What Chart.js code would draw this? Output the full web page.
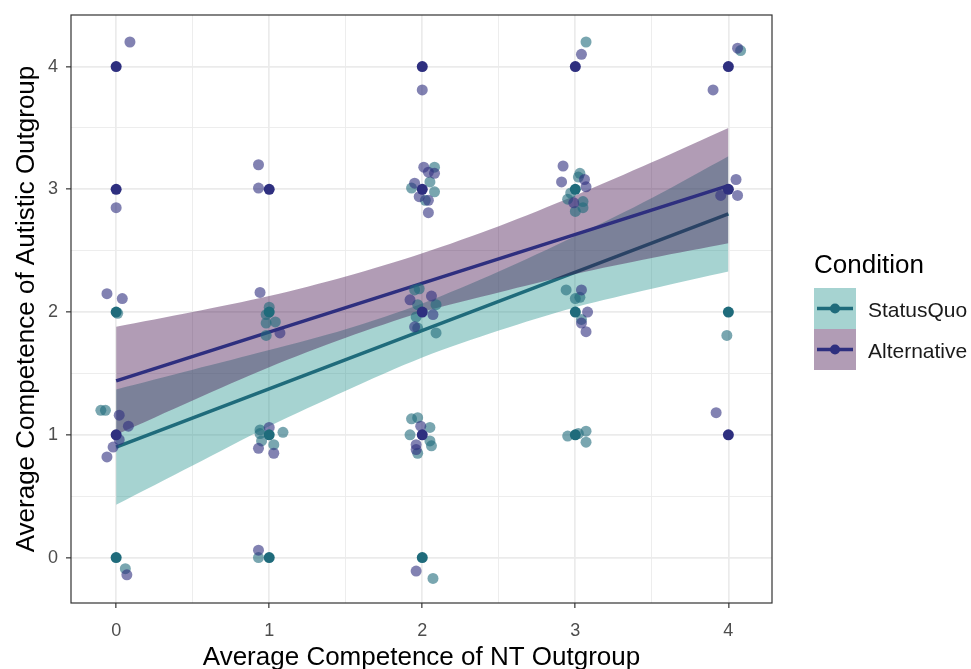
<!DOCTYPE html>
<html>
<head>
<meta charset="utf-8">
<script src="https://cdn.jsdelivr.net/npm/chart.js@4.4.1/dist/chart.umd.min.js"></script>
<style>
  html, body { margin: 0; padding: 0; background: #ffffff; }
  canvas { display: block; }
</style>
</head>
<body>
<canvas id="chart" width="971" height="669"></canvas>
<script>
// ---- data -------------------------------------------------------------
const conditions = ['StatusQuo', 'Alternative'];

const xTickValues = [0, 1, 2, 3, 4];
const xTickLabels = ['0', '1', '2', '3', '4'];
const yTickValues = [0, 1, 2, 3, 4];
const yTickLabels = ['0', '1', '2', '3', '4'];

const xTitle = 'Average Competence of NT Outgroup';
const yTitle = 'Average Competence of Autistic Outgroup';
const legendTitle = 'Condition';

// linear fit per condition, evaluated at the ends of the x range
const fitX = [0, 4];
const fitStatusQuo = [0.90, 2.80];
const fitAlternative = [1.44, 3.03];

// 95% confidence band of each fit
const bandX = [0, 0.5, 1, 1.5, 2, 2.5, 3, 3.5, 4];
const statusQuoLower = [0.43, 0.75, 1.07, 1.36, 1.63, 1.85, 2.04, 2.19, 2.33];
const statusQuoUpper = [1.37, 1.53, 1.69, 1.86, 2.07, 2.33, 2.62, 2.93, 3.27];
const alternativeLower = [1.00, 1.28, 1.55, 1.79, 2.00, 2.16, 2.31, 2.44, 2.56];
const alternativeUpper = [1.88, 2.00, 2.13, 2.29, 2.48, 2.70, 2.95, 3.22, 3.50];

// responses sitting exactly on the grid (many stacked on each other)
const statusQuoStacked = [
  [0, 2], [0, 0], [1, 2], [1, 1], [1, 0], [2, 0], [3, 3], [3, 2], [3, 1], [4, 2]
];
const alternativeStacked = [
  [0, 4], [0, 3], [0, 1], [1, 3], [2, 4], [2, 3], [2, 2], [2, 1], [3, 4], [4, 4], [4, 3], [4, 1]
];

// jittered responses
const statusQuoJitter = [
  [-0.10, 1.20], [-0.07, 1.20], [0.01, 1.99], [0.06, -0.09],
  [0.94, 1.04], [0.94, 1.01], [1.09, 1.02], [0.95, 0.95], [1.03, 0.92], [0.93, 0.00],
  [1.00, 2.04], [0.98, 1.98], [0.98, 1.91], [1.04, 1.92], [0.98, 1.81],
  [2.08, 3.18], [2.05, 3.06], [1.93, 3.01], [2.08, 2.98], [2.02, 2.91],
  [1.95, 2.18], [1.98, 2.19], [2.09, 2.06], [1.97, 2.06], [1.96, 1.96], [1.97, 1.87], [2.09, 1.83],
  [1.93, 1.13], [1.97, 1.14], [2.05, 1.06], [1.92, 1.00], [2.05, 0.95], [2.06, 0.91], [1.97, 0.85], [2.07, -0.17],
  [3.07, 4.20],
  [3.03, 3.13], [3.02, 3.10], [2.97, 2.97], [2.95, 2.92], [3.05, 2.90], [3.00, 2.82], [3.05, 2.85],
  [2.94, 2.18], [3.00, 2.11], [3.03, 2.12], [3.04, 1.94],
  [2.95, 0.99], [3.02, 1.01], [3.07, 1.03], [3.07, 0.94],
  [4.08, 4.13], [3.99, 1.81]
];
const alternativeJitter = [
  [0.09, 4.20], [0.00, 2.85], [-0.06, 2.15], [0.04, 2.11], [0.02, 1.16], [0.08, 1.07],
  [0.02, 0.96], [-0.02, 0.90], [-0.06, 0.82], [0.07, -0.14],
  [0.93, 3.20], [0.93, 3.01], [0.94, 2.16], [1.07, 1.83], [1.00, 1.06], [0.93, 0.89], [1.03, 0.85], [0.93, 0.06],
  [2.00, 3.81], [2.01, 3.18], [2.04, 3.14], [2.08, 3.13], [1.95, 3.05], [1.98, 2.94], [2.04, 2.91], [2.04, 2.81],
  [1.92, 2.10], [2.06, 2.13], [2.07, 1.98], [1.95, 1.88],
  [1.99, 1.07], [1.96, 0.92], [1.96, 0.88], [1.96, -0.11],
  [3.04, 4.10], [2.92, 3.19], [2.91, 3.06], [3.06, 3.08], [3.07, 3.02], [2.99, 2.89],
  [3.04, 2.18], [3.08, 2.00], [3.04, 1.91], [3.07, 1.84],
  [4.06, 4.15], [3.90, 3.81], [4.05, 3.08], [4.06, 2.95], [3.95, 2.95], [3.92, 1.18]
];

// ---- styling ----------------------------------------------------------
const FONT = '"Liberation Sans", Arial, Helvetica, sans-serif';
const colors = {
  StatusQuo:   { line: '#1f6b7b', point: 'rgba(31,107,123,0.6)', solid: '#1f6b7b', band: 'rgba(33,144,140,0.4)' },
  Alternative: { line: '#2e2f7f', point: 'rgba(46,47,127,0.6)', solid: '#2e2f7f', band: 'rgba(60,8,70,0.4)' }
};
const PANEL = { left: 71, right: 772, top: 15, bottom: 603 };
const POINT_R = 5.5;

const toXY = (xs, ys) => xs.map((x, i) => ({ x: x, y: ys[i] }));
const pairs = (arr) => arr.map(p => ({ x: p[0], y: p[1] }));

function band(name, lower, upper, order) {
  return [
    { type: 'line', label: name + ' lower', data: toXY(bandX, lower), borderWidth: 0,
      pointRadius: 0, fill: false, tension: 0.3, order: order },
    { type: 'line', label: name + ' upper', data: toXY(bandX, upper), borderWidth: 0,
      pointRadius: 0, fill: '-1', backgroundColor: colors[name].band, tension: 0.3, order: order }
  ];
}
function fitLine(name, ys, order) {
  return { type: 'line', label: name + ' fit', data: toXY(fitX, ys), borderColor: colors[name].line,
    borderWidth: 3.5, pointRadius: 0, fill: false, order: order };
}
function pointsSet(name, arr, color, order) {
  return { type: 'scatter', label: name, data: pairs(arr), backgroundColor: color,
    borderWidth: 0, pointRadius: POINT_R, order: order };
}

const datasets = [
  ...band('StatusQuo', statusQuoLower, statusQuoUpper, 20),
  fitLine('StatusQuo', fitStatusQuo, 19),
  ...band('Alternative', alternativeLower, alternativeUpper, 18),
  fitLine('Alternative', fitAlternative, 17),
  pointsSet('StatusQuo', statusQuoJitter, colors.StatusQuo.point, 10),
  pointsSet('Alternative', alternativeJitter, colors.Alternative.point, 9),
  pointsSet('StatusQuo', statusQuoStacked, colors.StatusQuo.solid, 8),
  pointsSet('Alternative', alternativeStacked, colors.Alternative.solid, 7)
];

// major grid at labelled ticks, minor grid halfway between them
function gridValues(majors) {
  const out = [];
  majors.forEach((v, i) => {
    out.push(v);
    if (i < majors.length - 1) out.push((v + majors[i + 1]) / 2);
  });
  return out;
}
function axis(majors, labels, min, max, isX) {
  return {
    type: 'linear', min: min, max: max,
    afterBuildTicks: (s) => { s.ticks = gridValues(majors).map(v => ({ value: v })); },
    afterFit: (s) => {
      if (isX) s.height = 669 - PANEL.bottom; else s.width = PANEL.left;
      s.paddingTop = 0; s.paddingBottom = 0; s.paddingLeft = 0; s.paddingRight = 0;
    },
    grid: {
      color: '#ebebeb',
      lineWidth: (c) => majors.includes(c.tick.value) ? 1.7 : 0.9,
      tickColor: (c) => majors.includes(c.tick.value) ? '#333333' : 'rgba(0,0,0,0)',
      tickLength: 5, tickWidth: 1.2, drawTicks: true
    },
    border: { display: false },
    ticks: {
      autoSkip: false, maxRotation: 0, minRotation: 0,
      padding: isX ? 12 : 8,
      color: '#4d4d4d',
      font: { family: FONT, size: 18 },
      callback: (v) => { const i = majors.indexOf(v); return i >= 0 ? labels[i] : ''; }
    }
  };
}

const decorations = {
  id: 'decorations',
  afterDatasetsDraw(chart) {
    const ctx = chart.ctx, a = chart.chartArea;
    ctx.save();
    ctx.strokeStyle = '#333333';
    ctx.lineWidth = 1.2;
    ctx.strokeRect(a.left, a.top, a.right - a.left, a.bottom - a.top);
    ctx.restore();
  },
  afterDraw(chart) {
    const ctx = chart.ctx, a = chart.chartArea;
    ctx.save();
    ctx.fillStyle = '#000000';
    ctx.font = '26px ' + FONT;
    ctx.textAlign = 'center';
    ctx.textBaseline = 'alphabetic';
    ctx.fillText(xTitle, (a.left + a.right) / 2, 665);
    ctx.save();
    ctx.translate(34, (a.top + a.bottom) / 2);
    ctx.rotate(-Math.PI / 2);
    ctx.fillText(yTitle, 0, 0);
    ctx.restore();

    // legend
    ctx.textAlign = 'left';
    ctx.fillText(legendTitle, 814, 273);
    conditions.forEach((name, i) => {
      const y0 = 288 + i * 41;
      ctx.fillStyle = '#ffffff';
      ctx.fillRect(814, y0, 42, 41);
      ctx.fillStyle = colors[name].band;
      ctx.fillRect(814, y0, 42, 41);
      ctx.strokeStyle = colors[name].line;
      ctx.lineWidth = 3.5;
      ctx.beginPath();
      ctx.moveTo(817, y0 + 20.5);
      ctx.lineTo(853, y0 + 20.5);
      ctx.stroke();
      ctx.fillStyle = colors[name].solid;
      ctx.beginPath();
      ctx.arc(835, y0 + 20.5, 5, 0, Math.PI * 2);
      ctx.fill();
      ctx.fillStyle = '#1a1a1a';
      ctx.font = '21px ' + FONT;
      ctx.fillText(name, 868, y0 + 29);
      ctx.font = '26px ' + FONT;
    });
    ctx.restore();
  }
};

new Chart(document.getElementById('chart'), {
  data: { datasets: datasets },
  options: {
    responsive: false,
    animation: false,
    events: [],
    layout: { autoPadding: false, padding: { left: 0, top: PANEL.top, right: 971 - PANEL.right, bottom: 0 } },
    plugins: { legend: { display: false }, tooltip: { enabled: false } },
    scales: {
      x: axis(xTickValues, xTickLabels, -0.295, 4.285, true),
      y: axis(yTickValues, yTickLabels, -0.37, 4.42, false)
    }
  },
  plugins: [decorations]
});
</script>
</body>
</html>
